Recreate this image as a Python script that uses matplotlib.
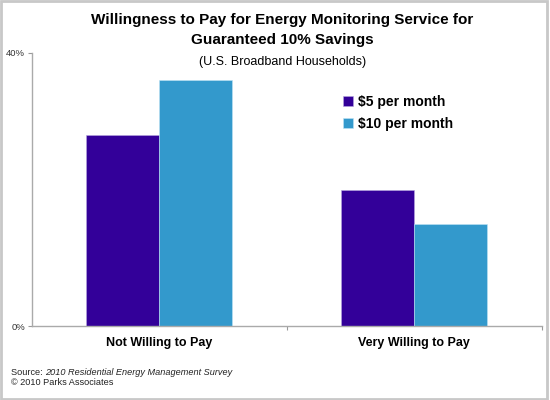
import matplotlib
matplotlib.use('Agg')
import matplotlib.pyplot as plt
from matplotlib.patches import Rectangle
import numpy as np

plt.rcParams['font.family'] = ['Liberation Sans', 'DejaVu Sans']

#Data section ---------------------------------------------
categories = ['Not Willing to Pay', 'Very Willing to Pay']
series_names = ['$5 per month', '$10 per month']
five_dollar = [28, 20]
ten_dollar = [36, 15]
colors = ['#330099', '#3399CC']

#Plot section ---------------------------------------------
fig = plt.figure(figsize=(5.5, 4.0), dpi=100)
ax = fig.add_axes([0.058, 0.185, 0.927, 0.6825])

x = np.arange(len(categories))
w = 0.286
b1 = ax.bar(x - w/2, five_dollar, w, color=colors[0], edgecolor='#B8A8E0', linewidth=0.4, label=series_names[0])
b2 = ax.bar(x + w/2, ten_dollar, w, color=colors[1], edgecolor='#BFE4F5', linewidth=0.4, label=series_names[1])

ax.set_xlim(-0.5, 1.5)
ax.set_ylim(0, 40)
ax.set_yticks([0, 40])
ax.set_yticklabels(['0%', '40%'], fontsize=6.8, color='#333333')
ax.set_xticks([0.5, 1.5])
ax.set_xticklabels([])
ax.tick_params(axis='both', length=3, width=0.8, color='#999999', pad=2)
for s in ['top', 'right']:
    ax.spines[s].set_visible(False)
for s in ['left', 'bottom']:
    ax.spines[s].set_color('#AAAAAA')
    ax.spines[s].set_linewidth(1.0)

for i, c in enumerate(categories):
    ax.text(x[i], -0.064, c, transform=ax.get_xaxis_transform(), ha='center', va='center',
            fontsize=9, fontweight='bold')

fig.text(0.513, 0.949, 'Willingness to Pay for Energy Monitoring Service for', ha='center', va='center',
         fontsize=11, fontweight='bold')
fig.text(0.513, 0.899, 'Guaranteed 10% Savings', ha='center', va='center', fontsize=11, fontweight='bold')
fig.text(0.513, 0.845, '(U.S. Broadband Households)', ha='center', va='center', fontsize=9)

leg = fig.legend(handles=[b1, b2], loc='upper left', bbox_to_anchor=(0.611, 0.78), frameon=False,
                 prop={'weight': 'bold', 'size': 10}, handlelength=0.7, handleheight=0.7,
                 handletextpad=0.4, labelspacing=0.55, borderpad=0)

fig.text(0.02, 0.068, 'Source: ', ha='left', va='center', fontsize=6.6, color='#222222')
fig.text(0.082, 0.068, '2010 Residential Energy Management Survey', ha='left', va='center', fontsize=6.6,
         style='italic', color='#222222')
fig.text(0.02, 0.043, '\u00a9 2010 Parks Associates', ha='left', va='center', fontsize=6.6, color='#222222')

fig.patches.append(Rectangle((0.002, 0.003), 0.993, 0.994, transform=fig.transFigure, fill=False,
                             edgecolor='#C8C8C8', linewidth=2))

plt.savefig('out.png', dpi=100)
